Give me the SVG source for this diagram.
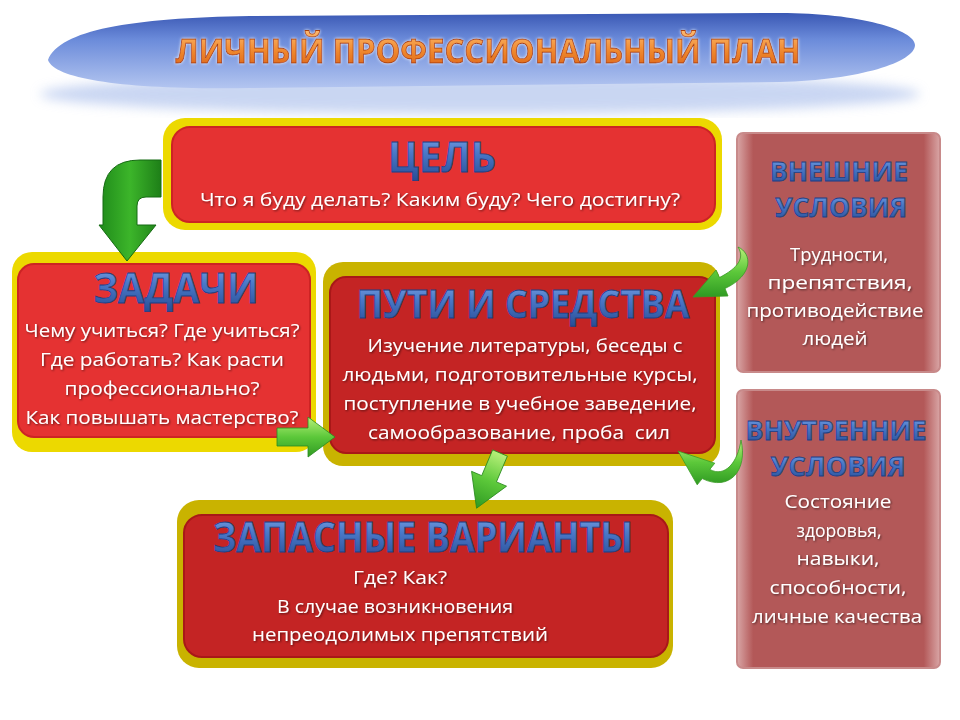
<svg xmlns="http://www.w3.org/2000/svg" width="960" height="720" viewBox="0 0 960 720">
<defs>
<linearGradient id="banner" x1="0" y1="0" x2="0" y2="1">
<stop offset="0" stop-color="#3a58b4"/>
<stop offset="0.35" stop-color="#6b8bda"/>
<stop offset="1" stop-color="#b3c5f0"/>
</linearGradient>
<linearGradient id="orange" x1="0" y1="0" x2="0" y2="1">
<stop offset="0" stop-color="#ffc27a"/>
<stop offset="0.5" stop-color="#f08a30"/>
<stop offset="1" stop-color="#d85a10"/>
</linearGradient>
<linearGradient id="blue" x1="0" y1="0" x2="0" y2="1">
<stop offset="0" stop-color="#8ab0ec"/>
<stop offset="0.45" stop-color="#4a78c8"/>
<stop offset="1" stop-color="#23488f"/>
</linearGradient>
<linearGradient id="green" x1="0" y1="0" x2="1" y2="0">
<stop offset="0" stop-color="#1f8a1a"/>
<stop offset="0.5" stop-color="#3cb52a"/>
<stop offset="1" stop-color="#1e7f18"/>
</linearGradient>
<linearGradient id="lgreen" x1="0" y1="0" x2="0" y2="1">
<stop offset="0" stop-color="#b8f07a"/>
<stop offset="0.5" stop-color="#5cc83a"/>
<stop offset="1" stop-color="#2f9a22"/>
</linearGradient>
<linearGradient id="side" x1="0" y1="0" x2="1" y2="0">
<stop offset="0" stop-color="#d9a6a6"/>
<stop offset="0.08" stop-color="#b35858"/>
<stop offset="0.92" stop-color="#b35858"/>
<stop offset="1" stop-color="#d9a6a6"/>
</linearGradient>
<filter id="sh" x="-10%" y="-30%" width="120%" height="160%">
<feDropShadow dx="1" dy="1" stdDeviation="0.8" flood-color="#000" flood-opacity="0.55"/>
</filter>
<filter id="glow" x="-10%" y="-40%" width="120%" height="180%">
<feDropShadow dx="0" dy="0" stdDeviation="1.5" flood-color="#fff" flood-opacity="0.9"/>
</filter>
<filter id="blur"><feGaussianBlur stdDeviation="6"/></filter>
<style>
.body{font-family:"Open Sans","DejaVu Sans",sans-serif;font-size:19px;fill:#fff;text-anchor:middle;filter:url(#sh)}
.head{font-family:"Open Sans","DejaVu Sans",sans-serif;font-weight:bold;fill:url(#blue);stroke:#1d3f85;stroke-width:0.8;text-anchor:middle}
.yel{fill:#ecd900}
.olive{fill:#c9b300}
.red1{fill:#e53232;stroke:#cc2424;stroke-width:2}
.red2{fill:#c42424;stroke:#a81818;stroke-width:2}
.side{fill:url(#side);stroke:#c88a8a;stroke-width:2}
</style>
</defs>
<rect width="960" height="720" fill="#fff"/>
<g id="banner">
<ellipse cx="480" cy="94" rx="440" ry="20" fill="#a6bbea" opacity="0.6" filter="url(#blur)"/>
<path d="M48,60 C60,30 130,18 250,16 L780,13 C860,13 915,30 915,45 C915,62 860,80 780,82 L250,88 C130,90 55,80 48,60 Z" fill="url(#banner)"/>
<text x="488" y="63" font-family="'Open Sans','DejaVu Sans',sans-serif" font-weight="bold" font-size="34" textLength="625" lengthAdjust="spacingAndGlyphs" text-anchor="middle" fill="url(#orange)" stroke="#a8400c" stroke-width="0.9" filter="url(#glow)">ЛИЧНЫЙ ПРОФЕССИОНАЛЬНЫЙ ПЛАН</text>
</g>
<g id="goal">
<rect x="163" y="118" width="559" height="112" rx="22" class="yel"/>
<rect x="172" y="127" width="543" height="95" rx="18" class="red1"/>
<text x="442" y="172" class="head" font-size="42" textLength="108" lengthAdjust="spacingAndGlyphs">ЦЕЛЬ</text>
<text x="440" y="206" class="body" textLength="480" lengthAdjust="spacingAndGlyphs">Что я буду делать? Каким буду? Чего достигну?</text>
</g>
<g id="tasks">
<rect x="12" y="252" width="304" height="200" rx="20" class="yel"/>
<rect x="18" y="264" width="292" height="173" rx="16" class="red1"/>
<text x="176" y="303" class="head" font-size="42" textLength="165" lengthAdjust="spacingAndGlyphs">ЗАДАЧИ</text>
<text x="162" y="337" class="body" textLength="275" lengthAdjust="spacingAndGlyphs">Чему учиться? Где учиться?</text>
<text x="162" y="366" class="body" textLength="244" lengthAdjust="spacingAndGlyphs">Где работать? Как расти</text>
<text x="162" y="395" class="body" textLength="195" lengthAdjust="spacingAndGlyphs">профессионально?</text>
<text x="162" y="424" class="body" textLength="273" lengthAdjust="spacingAndGlyphs">Как повышать мастерство?</text>
</g>
<g id="means">
<rect x="323" y="262" width="397" height="204" rx="20" class="olive"/>
<rect x="330" y="277" width="385" height="176" rx="16" class="red2"/>
<text x="523" y="318" class="head" font-size="40" textLength="333" lengthAdjust="spacingAndGlyphs">ПУТИ И СРЕДСТВА</text>
<text x="525" y="352" class="body" textLength="315" lengthAdjust="spacingAndGlyphs">Изучение литературы, беседы с</text>
<text x="520" y="381" class="body" textLength="355" lengthAdjust="spacingAndGlyphs">людьми, подготовительные курсы,</text>
<text x="520" y="410" class="body" textLength="353" lengthAdjust="spacingAndGlyphs">поступление в учебное заведение,</text>
<text x="519" y="439" class="body" textLength="302" lengthAdjust="spacingAndGlyphs" xml:space="preserve">самообразование, проба  сил</text>
</g>
<g id="backup">
<rect x="177" y="500" width="496" height="168" rx="22" class="olive"/>
<rect x="184" y="515" width="484" height="142" rx="18" class="red2"/>
<text x="423" y="552" class="head" font-size="42" textLength="420" lengthAdjust="spacingAndGlyphs">ЗАПАСНЫЕ ВАРИАНТЫ</text>
<text x="400" y="584" class="body" textLength="94" lengthAdjust="spacingAndGlyphs">Где? Как?</text>
<text x="395" y="613" class="body" textLength="236" lengthAdjust="spacingAndGlyphs">В случае возникновения</text>
<text x="400" y="641" class="body" textLength="296" lengthAdjust="spacingAndGlyphs">непреодолимых препятствий</text>
</g>
<g id="external">
<rect x="737" y="133" width="203" height="239" rx="6" class="side"/>
<text x="839" y="181" class="head" font-size="27" textLength="138" lengthAdjust="spacingAndGlyphs">ВНЕШНИЕ</text>
<text x="841" y="217" class="head" font-size="27" textLength="132" lengthAdjust="spacingAndGlyphs">УСЛОВИЯ</text>
<text x="839" y="261" class="body" textLength="98" lengthAdjust="spacingAndGlyphs">Трудности,</text>
<text x="840" y="289" class="body" textLength="145" lengthAdjust="spacingAndGlyphs">препятствия,</text>
<text x="835" y="317" class="body" textLength="177" lengthAdjust="spacingAndGlyphs">противодействие</text>
<text x="835" y="345" class="body" textLength="65" lengthAdjust="spacingAndGlyphs">людей</text>
</g>
<g id="internal">
<rect x="737" y="390" width="203" height="278" rx="6" class="side"/>
<text x="836" y="440" class="head" font-size="27" textLength="181" lengthAdjust="spacingAndGlyphs">ВНУТРЕННИЕ</text>
<text x="838" y="476" class="head" font-size="27" textLength="135" lengthAdjust="spacingAndGlyphs">УСЛОВИЯ</text>
<text x="838" y="508" class="body" textLength="107" lengthAdjust="spacingAndGlyphs">Состояние</text>
<text x="839" y="537" class="body" textLength="85" lengthAdjust="spacingAndGlyphs">здоровья,</text>
<text x="838" y="565" class="body" textLength="83" lengthAdjust="spacingAndGlyphs">навыки,</text>
<text x="838" y="594" class="body" textLength="137" lengthAdjust="spacingAndGlyphs">способности,</text>
<text x="837" y="623" class="body" textLength="170" lengthAdjust="spacingAndGlyphs">личные качества</text>
</g>
<g id="connectors">
<path d="M161,160 L140,160 Q103,160 103,197 L103,225 L99,225 L127,261 L156,225 L137,225 L137,206 Q137,197 146,197 L161,197 Z" fill="url(#green)" stroke="#156a12" stroke-width="1"/>
<path d="M277,428 L308,428 L308,417 L335,437 L308,457 L308,446 L277,446 Z" fill="url(#lgreen)" stroke="#2a8a1e" stroke-width="0.8"/>
<g transform="translate(500,453) rotate(23)">
<path d="M-8,0 L8,0 L8,28 L19,28 L0,60 L-19,28 L-8,28 Z" fill="url(#lgreen)" stroke="#2a8a1e" stroke-width="0.8"/>
</g>
<path d="M693,297 L716,270 L719.5,277.5 C738,268 745,258 738,247 C752,253 754,275 725,288.5 L728,296 Z" fill="url(#lgreen)" stroke="#3a9a26" stroke-width="0.8"/>
<path d="M678,451 L714.8,463.2 L709.8,469.4 C725,478 738,462 741,440 C748,470 730,492 702.2,478.6 L697.2,484.8 Z" fill="url(#lgreen)" stroke="#3a9a26" stroke-width="0.8"/>
</g>
</svg>
